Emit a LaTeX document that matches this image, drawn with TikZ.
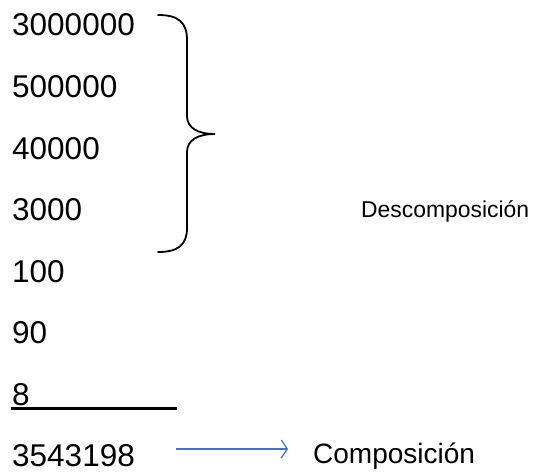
\documentclass[tikz,border=0pt]{standalone}
\usepackage{fontspec}
\setmainfont{Liberation Sans}
\usetikzlibrary{arrows.meta}
\begin{document}
\begin{tikzpicture}[x=1pt,y=-1pt,
  numtext/.style={anchor=base west,inner sep=0pt,font=\fontsize{31.5}{34}\selectfont},
  bracepath/.style={line width=1.8pt,line cap=round},
  blueline/.style={draw={rgb,255:red,68;green,114;blue,196},line width=1.5pt,
    -{Straight Barb[length=6pt,width=18pt,line width=1.2pt]}}]
\useasboundingbox (0,0) rectangle (535,476);
% the summands, one per line
\node[numtext] (n1) at (12,36)    {3000000};
\node[numtext] (n2) at (12,97.5)  {500000};
\node[numtext] (n3) at (12,159)   {40000};
\node[numtext] (n4) at (12,220.5) {3000};
\node[numtext] (n5) at (12,282)   {100};
\node[numtext] (n6) at (12,343.5) {90};
\node[numtext] (n7) at (12,405)   {8};
\node[numtext] (sum) at (12,466.5) {3543198};
% sum line under the last summand
\draw[line width=2.8pt] (11,408.5) -- (177,408.5);
% curly brace grouping the first summands
\draw[bracepath] (158,15) .. controls (178,15) and (187,22) .. (187,40)
  -- (187,116) .. controls (187,128) and (198,134) .. (215,134)
  .. controls (198,134) and (187,140) .. (187,152)
  -- (187,228) .. controls (187,245) and (178,252) .. (158,252);
% labels
\node[anchor=base west,inner sep=0pt,font=\fontsize{22.9}{26}\selectfont] (desc) at (361,217) {Descomposición};
\node[anchor=base west,inner sep=0pt,font=\fontsize{28}{30}\selectfont] (comp) at (313,463) {Composición};
% arrow from the sum to its label
\draw[blueline] ([xshift=41pt,yshift=17.5pt]sum.base east) -- ([xshift=-25pt,yshift=17.5pt]sum.base east -| comp.west);
\end{tikzpicture}
\end{document}
